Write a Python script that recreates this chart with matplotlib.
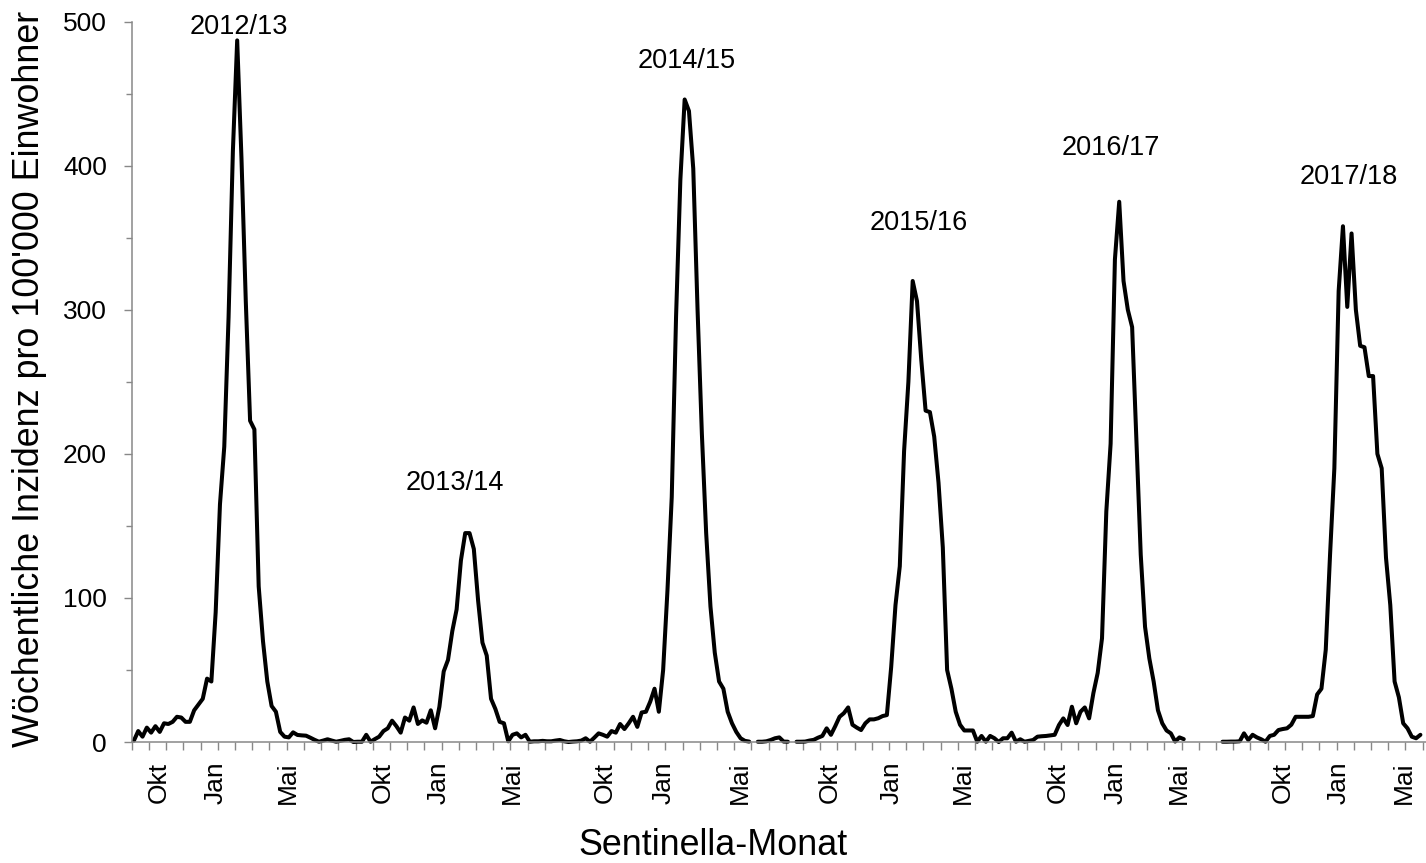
import numpy as np
import matplotlib
matplotlib.use('Agg')
import matplotlib.pyplot as plt

plt.rcParams['font.family'] = ['Liberation Sans', 'DejaVu Sans']

nan = np.nan

# weekly incidence per 100'000, one list per season block (weeks in a row)
s1213 = [1, 7.6, 3.7, 10, 6.5, 11, 7, 13, 12.5, 14,
         17.5, 17, 14, 14, 22, 26, 30, 44, 42, 90,
         165, 205, 295, 410, 487, 405, 306, 223, 217, 108,
         70, 42, 25, 21, 7, 3.7, 3.2, 6.7, 4.9, 4.6,
         4.4, 3, 1.5, 0.2, 1, 1.9, 1, 0.2, 0.8, 1.5,
         1.9, 0]
s1314 = [0.2, 0.2, 5, 0.2, 2, 3.7, 7.6, 9.5, 14.8, 11,
         6.5, 17, 14.8, 24, 12.5, 15, 13.4, 22, 9.5, 24.5,
         49, 57, 77, 92, 126, 145, 145, 134, 98, 69,
         60, 30, 23, 14, 13, 0.5, 5, 6, 3.2, 5,
         0.2, 0.5, 0.5, 0.8, 0.5, 0.5, 1, 1.4, 0.5, 0,
         0.3, 0.5]
s1415 = [1, 2.6, 0.2, 3, 6, 5, 3.7, 7.6, 6.5, 12.5,
         9, 13, 17.5, 10.5, 20.5, 21, 28, 37, 21, 50,
         105, 170, 295, 390, 446, 438, 398, 300, 214, 145,
         94, 62, 42, 37, 21, 13, 7, 2.6, 0.8, 0.3,
         nan, 0.2, 0.2, 0.5, 1.4, 2.6, 3.2, 0.3, 0.2, nan,
         0.2, 0.2]
s1516 = [0.3, 1, 1.5, 3, 4.2, 9.5, 5, 11, 17.5, 20,
         24, 12, 10, 8.3, 13, 15.7, 15.7, 16.5, 18, 18.7,
         52, 95, 122, 202, 250, 320, 306, 265, 230, 229,
         212, 180, 135, 50, 37, 21, 12, 8, 8, 8,
         0.2, 4.2, 0.2, 4.2, 2.6, 0, 2.6, 2.6, 6.5, 0.2,
         1.9, 0.2, 0.8]
s1617 = [1.4, 3.7, 4, 4.2, 4.6, 5, 11.8, 16.4, 11.8, 24.5,
         13, 21, 24, 16.4, 34, 48, 72, 160, 207, 335,
         375, 320, 300, 288, 210, 130, 80, 58, 42, 22,
         13, 8, 6, 0.3, 3.2, 2,
         nan, nan, nan, nan, nan, nan, nan, nan,
         0.2, 0.2, 0.3, 0.3, 0.5, 6, 1.4, 5]
s1718 = [3.2, 1.9, 0.2, 4.2, 5, 8.3, 9, 9.5, 12, 17.5,
         17.5, 17.5, 17.5, 18, 33, 37, 64, 130, 190, 313,
         358, 302, 353, 300, 275, 274, 254, 254, 200, 190,
         128, 95, 42, 31, 13, 9.5, 3.7, 2.6, 5]

incidence = np.array(s1213 + s1314 + s1415 + s1516 + s1617 + s1718, dtype=float)
weeks = np.arange(len(incidence))

# month labels on the week axis
month_labels = ['Okt', 'Jan', 'Mai'] * 6
month_pos = [5.7, 18.9, 35.8,
             57.9, 70.9, 87.8,
             109.5, 123.0, 140.9,
             161.8, 176.1, 192.7,
             214.8, 228.2, 242.9,
             266.9, 279.9, 295.2]

# season labels (x in weeks, y in incidence)
season_names = ['2012/13', '2013/14', '2014/15', '2015/16', '2016/17', '2017/18']
season_x = [24.3, 74.6, 128.5, 182.5, 227.1, 282.3]
season_y = [496, 180, 473, 360, 412, 392]

gray = '#888888'

fig = plt.figure(figsize=(14.26, 8.63), dpi=100)
ax = fig.add_axes([0.0924, 0.1402, 0.9076, 0.8347])

ax.plot(weeks, incidence, color='black', lw=2.9,
        solid_joinstyle='round', solid_capstyle='round', clip_on=False)

for name, sx, sy in zip(season_names, season_x, season_y):
    ax.text(sx, sy, name, ha='center', va='center', fontsize=19.5)

ax.set_xlim(-0.5, 300.3)
ax.set_ylim(0, 500)

ax.set_xticks(month_pos)
ax.set_xticklabels(month_labels, rotation=90)
ax.set_xticks(np.arange(-0.5, 300, 4), minor=True)
ax.set_yticks(range(0, 501, 100))
ax.set_yticks(range(50, 500, 100), minor=True)

ax.tick_params(axis='x', which='major', length=0, pad=14, labelsize=19)
ax.tick_params(axis='x', which='minor', length=5.8, width=1, color=gray, direction='out')
ax.tick_params(axis='y', which='major', length=5.8, width=1, color=gray, pad=12, labelsize=19)
ax.tick_params(axis='y', which='minor', length=4.6, width=1, color=gray)

for side in ['top', 'right']:
    ax.spines[side].set_visible(False)
for side in ['left', 'bottom']:
    ax.spines[side].set_color(gray)
    ax.spines[side].set_linewidth(1.1)

fig.text(30 / 1426, 0.5614, "Wöchentliche Inzidenz pro 100'000 Einwohner",
         rotation=90, ha='center', va='center', fontsize=25.8)
fig.text(713 / 1426, 1 - 845.5 / 863, 'Sentinella-Monat',
         ha='center', va='center', fontsize=25.8)

fig.savefig('out.png', dpi=100)
